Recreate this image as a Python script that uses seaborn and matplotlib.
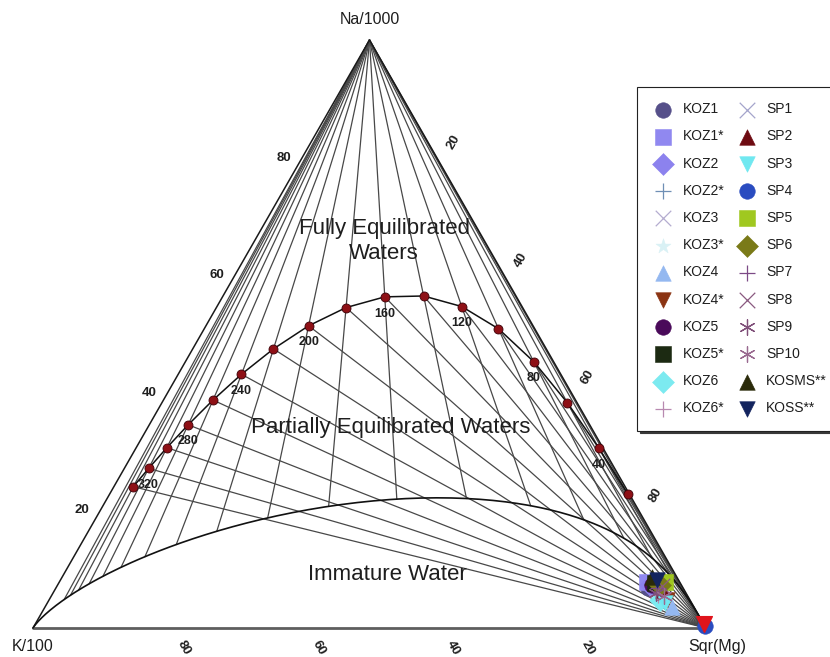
import numpy as np
import matplotlib
matplotlib.use("Agg")
import matplotlib.pyplot as plt
import seaborn as sns

# ---- Giggenbach (1988) Na-K-Mg geothermometer relations ----
KNA_A, KNA_B = 1.75, 1390.0    # log(cK/cNa)   = A - B / T(K)
KMG_A, KMG_B = 14.0, 4410.0    # log(cK^2/cMg) = A - B / T(K)
MI_IMMATURE = 2.0              # maturity index on the immature-water boundary

# Temperatures (deg C) of the full-equilibrium points, and the labelled ones
eq_temps = [20, 40, 60, 80, 100, 120, 140, 160, 180, 200, 220, 240, 260, 280, 300, 320, 340]
eq_label_temps = [40, 80, 120, 160, 200, 240, 280, 320]
# K-Mg isotherms fanning out of the Na/1000 apex
kmg_isotherms = eq_temps + [360, 380]
# Percent ticks on each side of the triangle
edge_ticks = [20, 40, 60, 80]

# Samples: relative percent of Na/1000, K/100 and sqrt(Mg)
sample_names = ["KOZ1", "KOZ1*", "KOZ2", "KOZ2*", "KOZ3", "KOZ3*", "KOZ4", "KOZ4*",
                "KOZ5", "KOZ5*", "KOZ6", "KOZ6*", "SP1", "SP2", "SP3", "SP4", "SP5",
                "SP6", "SP7", "SP8", "SP9", "SP10", "KOSMS**", "KOSS**"]
sample_na = [6.8, 7.8, 7.3, 6.5, 6.1, 5.6, 3.6, 4.8, 7.3, 7.7, 4.8, 5.6,
             6.1, 6.5, 4.3, 0.3, 7.8, 7.3, 6.8, 7.1, 6.0, 5.4, 8.7, 8.2]
sample_k = [5.2, 4.9, 4.7, 4.4, 3.8, 3.7, 3.3, 3.4, 4.4, 3.8, 4.5, 4.3,
            3.3, 3.2, 4.0, 0.0, 2.2, 3.2, 3.7, 3.0, 4.5, 3.5, 3.6, 3.2]
sample_mg = [88.0, 87.3, 88.0, 89.1, 90.1, 90.7, 93.1, 91.8, 88.3, 88.5, 90.7, 90.1,
             90.6, 90.3, 91.7, 99.7, 90.0, 89.5, 89.5, 89.9, 89.5, 91.1, 87.7, 88.6]
sample_markers = ["o", "s", "D", "+", "x", "*", "^", "v", "o", "s", "D", "+",
                  "x", "^", "v", "o", "s", "D", "+", "x", (6, 2, 0), (6, 2, 0), "^", "v"]
sample_colors = ["#56508a", "#9088f0", "#8c82ee", "#6f8fb5", "#b5add0", "#d9f1f5",
                 "#94b8f0", "#8b3413", "#4a0a5a", "#1c2a12", "#7ceaf0", "#b889b0",
                 "#a4a4cc", "#6e0b12", "#70e8f0", "#2a4cc0", "#a0c820", "#7a7a18",
                 "#7c4a86", "#8a5a80", "#80507a", "#9a6a90", "#2a2a0a", "#13245e"]
# Sample plotted at the Sqr(Mg) corner without a legend entry
corner_na, corner_k, corner_mg = [0.6], [0.0], [99.4]

sns.set_style("white")
plt.rcParams["font.family"] = ["Liberation Sans", "DejaVu Sans"]
TEXT = "#1e1e1e"
GRID = "#484848"


def to_xy(na, k, mg):
    na, k, mg = (np.asarray(v, dtype=float) for v in (na, k, mg))
    s = na + k + mg
    return mg / s + 0.5 * na / s, na / s


def full_equilibrium(t):
    tk = np.asarray(t, dtype=float) + 273.15
    k_na = 10 * 10 ** (KNA_A - KNA_B / tk)            # (K/100)/(Na/1000)
    k_mg = 10 ** ((KMG_A - KMG_B / tk) / 2 - 2)       # (K/100)/sqrt(Mg)
    return 1 / k_na, np.ones_like(tk), 1 / k_mg


def immature_point(u):
    # u = log10((K/100)/sqrt(Mg)); maturity index fixes (K/100)/(Na/1000)
    u = np.asarray(u, dtype=float)
    log_ka = 0.315 * 4 + 1 + 0.63 * u - MI_IMMATURE
    return 10 ** (-log_ka), np.ones_like(u), 10 ** (-u)


fig = plt.figure(figsize=(8.3, 6.57), dpi=100)
ax = fig.add_axes([0, 0, 1, 1])
ax.set_xlim(-33 / 673, 797 / 673)
ax.set_ylim(-29 / 588, 628 / 588)
ax.axis("off")

apex = to_xy(100, 0, 0)
k_corner = to_xy(0, 100, 0)
mg_corner = to_xy(0, 0, 100)

# K-Mg isotherms: from the apex down to the immature-water boundary
for t in kmg_isotherms:
    tk = t + 273.15
    u = (KMG_A - KMG_B / tk) / 2 - 2
    ex, ey = to_xy(*immature_point(u))
    ax.plot([apex[0], ex], [apex[1], ey], color=GRID, lw=0.9, zorder=1)

# Na-K isotherms: from the Sqr(Mg) corner up to the full-equilibrium points
eq_x, eq_y = to_xy(*full_equilibrium(eq_temps))
for x, y in zip(eq_x, eq_y):
    ax.plot([mg_corner[0], x], [mg_corner[1], y], color=GRID, lw=0.9, zorder=1)

# Triangle sides
ax.plot([k_corner[0], apex[0], mg_corner[0]], [k_corner[1], apex[1], mg_corner[1]],
        color="#1a1a1a", lw=1.1, zorder=2)
ax.plot([k_corner[0], mg_corner[0]], [k_corner[1], mg_corner[1]],
        color="#5e5e5e", lw=2.0, zorder=2)

# Immature-water boundary
u_line = np.linspace(-8, 8, 600)
im_x, im_y = to_xy(*immature_point(u_line))
sns.lineplot(x=im_x, y=im_y, sort=False, estimator=None, color="#111111",
             lw=1.2, ax=ax, zorder=2)

# Full-equilibrium curve and its temperature points
sns.lineplot(x=eq_x, y=eq_y, sort=False, estimator=None, color="#111111",
             lw=1.1, ax=ax, zorder=3)
sns.scatterplot(x=eq_x, y=eq_y, color="#8e1016", edgecolor="#3c0008",
                linewidth=0.6, s=42, ax=ax, zorder=4)
for t in eq_label_temps:
    x, y = to_xy(*full_equilibrium([t]))
    ax.annotate(str(t), (x[0], y[0]), xytext=(0, -12), textcoords="offset points",
                ha="center", va="center", fontsize=9, fontweight="bold", color=TEXT)

# Percent ticks on the three sides
for v in edge_ticks:
    x, y = to_xy(v, 100 - v, 0)
    ax.annotate(str(v), (x, y), xytext=(-13, 0), textcoords="offset points",
                ha="center", va="center", fontsize=9.5, fontweight="bold", color=TEXT)
    x, y = to_xy(100 - v, 0, v)
    ax.annotate(str(v), (x, y), xytext=(12, 11), textcoords="offset points",
                ha="center", va="center", fontsize=9.5, fontweight="bold", color=TEXT,
                rotation=60)
    x, y = to_xy(0, v, 100 - v)
    ax.annotate(str(v), (x, y), xytext=(12, -14), textcoords="offset points",
                ha="center", va="center", fontsize=9.5, fontweight="bold", color=TEXT,
                rotation=-60)

# Corner labels
ax.annotate("Na/1000", apex, xytext=(0, 15), textcoords="offset points",
            ha="center", va="center", fontsize=11.5, color=TEXT)
ax.annotate("K/100", k_corner, xytext=(0, -13.5), textcoords="offset points",
            ha="center", va="center", fontsize=11.5, color=TEXT)
ax.annotate("Sqr(Mg)", mg_corner, xytext=(8, -13.5), textcoords="offset points",
            ha="center", va="center", fontsize=11.5, color=TEXT)

# Field names
fig.text(384 / 830, 1 - 241 / 657, "Fully Equilibrated\nWaters", ha="center",
         va="center", fontsize=16, color=TEXT, linespacing=1.25)
fig.text(391 / 830, 1 - 427 / 657, "Partially Equilibrated Waters", ha="center",
         va="center", fontsize=16, color=TEXT)
fig.text(387 / 830, 1 - 574 / 657, "Immature Water", ha="center",
         va="center", fontsize=16, color=TEXT)

# Samples
sx, sy = to_xy(sample_na, sample_k, sample_mg)
for i, name in enumerate(sample_names):
    kws = dict(marker=sample_markers[i], color=sample_colors[i], s=125,
               label=name, ax=ax, zorder=5 + i * 0.01)
    m = matplotlib.markers.MarkerStyle(sample_markers[i])
    if m.is_filled():
        kws.update(edgecolor=sample_colors[i], linewidth=0.4)
    else:
        kws.update(linewidth=0.9)
    sns.scatterplot(x=[sx[i]], y=[sy[i]], **kws)
cx, cy = to_xy(corner_na, corner_k, corner_mg)
sns.scatterplot(x=cx, y=cy, marker="v", color="#e0141c", edgecolor="#e0141c",
                s=130, ax=ax, zorder=6)

leg = ax.legend(loc="upper left", bbox_to_anchor=(637 / 830, 1 - 87 / 657),
                bbox_transform=fig.transFigure, ncol=2, frameon=True, fancybox=False,
                shadow={"color": "#3a3a3a", "alpha": 1.0}, fontsize=10,
                borderpad=1.1, labelspacing=0.95, handlelength=1.6,
                handletextpad=0.6, columnspacing=0.8, borderaxespad=0,
                scatterpoints=1)
leg.get_frame().set_edgecolor("#222222")
leg.get_frame().set_linewidth(0.8)
leg.get_frame().set_facecolor("white")
for txt in leg.get_texts():
    txt.set_color(TEXT)

fig.savefig("out.png", dpi=100, facecolor="white")
